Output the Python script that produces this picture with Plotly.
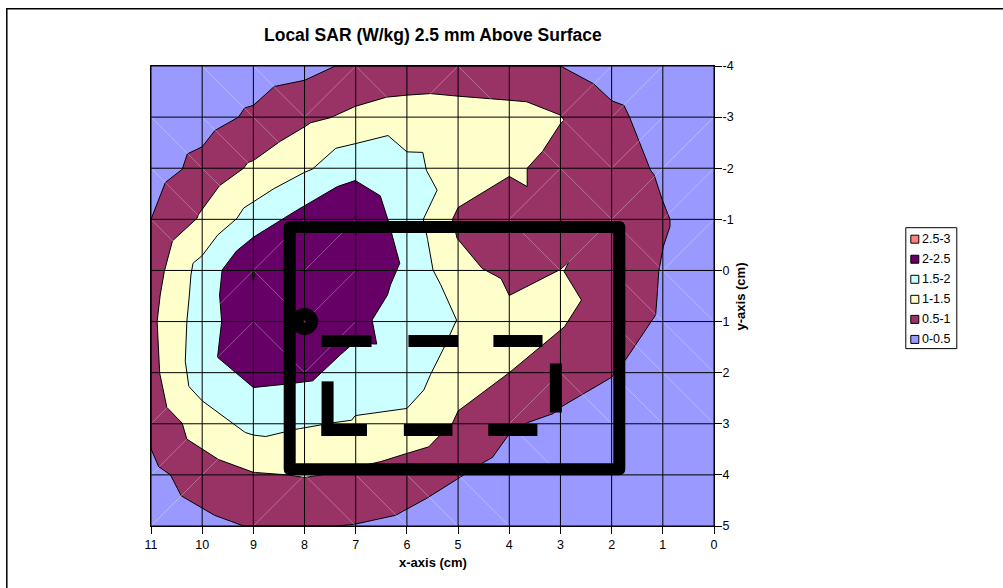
import plotly.graph_objects as go

# Contour bands: (x cm, y cm)
band_05_1_x = [11,10.72,10.39,10.29,10.0,9.75,9.29,9.17,9.0,8.59,8.0,7.4,3.0,2.35,2.0,1.76,1.65,1.24,1.17,1.01,0.86,0.86,0.99,1.08,1.11,1.14,1.73,2.0,2.97,3.14,3.65,4.03,4.33,4.51,4.95,5.6,6.22,7.04,7.4,9.19,9.76,10.41,10.62,10.85,11]
band_05_1_y = [-1.0,-1.72,-1.98,-2.28,-2.42,-2.74,-3.0,-3.18,-3.23,-3.6,-3.72,-4,-4,-3.65,-3.32,-3.23,-3.0,-1.96,-1.87,-1.38,-1.0,-0.86,-0.47,0.02,0.48,0.87,1.75,2.09,2.66,2.8,2.98,3.24,3.66,3.76,4.04,4.45,4.79,4.97,5,5,4.79,4.41,4.0,3.84,3.49]

band_1_15_x = [10.82,10.74,10.58,10.10,10.07,9.66,9.19,9.11,9.0,8.47,8.0,7.88,7.49,7.01,6.40,6.0,5.54,5.0,4.0,3.66,3.0,2.93,3.0,3.35,3.65,3.65,4.0,5.0,5.11,5.02,4.53,4.16,4.0,3.0,2.84,2.93,2.59,2.92,3.35,4.0,5.0,5.11,5.41,5.57,6.0,6.51,7.66,8.0,8.34,9.0,9.68,10.3,10.39,10.69,10.83,10.88]
band_1_15_y = [0.48,0.02,-0.58,-1.02,-1.10,-1.66,-2.0,-2.11,-2.15,-2.53,-2.81,-2.89,-2.99,-3.21,-3.39,-3.43,-3.46,-3.41,-3.33,-3.30,-3.04,-2.94,-2.87,-2.33,-2.0,-1.64,-1.84,-1.23,-1.0,-0.63,-0.04,0.16,0.49,-0.02,-0.16,0.02,0.58,1.10,1.46,2.0,2.75,2.99,3.28,3.45,3.58,3.74,4.0,4.05,4.0,3.95,3.7,3.30,2.99,2.68,2.01,1.0]

band_15_2_x = [10.25,10.22,10.18,10.0,9.70,9.32,9.19,8.6,8.0,7.85,7.39,7.01,6.37,6.0,5.69,5.62,5.41,5.68,5.6,5.49,5.34,5.25,5.03,5.28,5.54,5.67,6.0,7.01,7.08,7.44,8.18,8.76,9.0,9.16,10,10.26,10.33,10.3]
band_15_2_y = [0.48,0.09,-0.14,-0.29,-0.69,-1.02,-1.22,-1.6,-1.92,-1.98,-2.39,-2.48,-2.64,-2.32,-2.31,-1.96,-1.57,-1.0,-0.63,-0.01,0.28,0.48,0.97,1.52,2.04,2.34,2.70,2.84,2.93,2.98,3.11,3.25,3.22,3.17,2.55,2.27,1.78,1.0]

band_2_25_x = [9.61,9.66,9.62,9.70,9.0,8.41,7.84,7.30,7.04,6.59,6.68,6.38,6.32,6.14,6.37,6.52,7.01,7.36,8.18,9.0,9.33]
band_2_25_y = [-0.01,0.48,1.0,1.70,2.29,2.23,2.16,1.65,1.42,1.44,0.97,0.48,0.28,-0.14,-0.99,-1.46,-1.76,-1.64,-1.16,-0.65,-0.38]

band_25_3_x = [9.0,8.97,9.0,9.02]
band_25_3_y = [-0.02,0.05,0.2,0.07]

# Black overlay: board outline and dashes
board_x = [5.0,1.85,1.85,8.29,8.29,5.0]
board_y = [-0.85,-0.85,3.89,3.89,-0.85,-0.85]
dash_x = [[7.67,6.69],[5.97,5.0],[4.31,3.35],[7.55,7.55],[7.67,6.78],[6.06,5.11],[4.41,3.45],[3.09,3.09]]
dash_y = [[1.38,1.38],[1.38,1.38],[1.38,1.38],[2.17,3.24],[3.12,3.12],[3.12,3.12],[3.12,3.12],[1.82,2.78]]
feed_x = [8.0]
feed_y = [1.0]

x_ticks = list(range(0, 12))
y_ticks = list(range(-4, 6))
legend_labels = ["2.5-3", "2-2.5", "1.5-2", "1-1.5", "0.5-1", "0-0.5"]
legend_colors = ["#FF8080", "#660066", "#CCFFFF", "#FFFFCC", "#993366", "#9999FF"]

# Faint cell seams: per row (y -4..5), per column (x 11..0): D = falling, U = rising, - = none
seams = ["-DDUDUD-UU-",
         "DDD----DDUU",
         "DD-----UDUU",
         "D-UU-D-DUDU",
         "-UDU-----DD",
         "-UDU-----DD",
         "U------UDDD",
         "UUU----D---",
         "U-UDDDD----"]

title = "Local SAR (W/kg) 2.5 mm Above Surface"
FONT = "Liberation Sans, Arial, sans-serif"
W, H = 1003, 588
L, R, T, B = 150.7, 713.7, 65.7, 526.0

fig = go.Figure()
def band(xs, ys, color):
    fig.add_trace(go.Scatter(x=xs + xs[:1], y=ys + ys[:1], mode="lines", fill="toself",
                             fillcolor=color, line=dict(color="black", width=1, simplify=False),
                             hoverinfo="skip", showlegend=False))
band(band_05_1_x, band_05_1_y, legend_colors[4])
band(band_1_15_x, band_1_15_y, legend_colors[3])
band(band_15_2_x, band_15_2_y, legend_colors[2])
band(band_2_25_x, band_2_25_y, legend_colors[1])
band(band_25_3_x, band_25_3_y, legend_colors[0])

# seam lines between the surface cells
sx, sy = [], []
for r, row in enumerate(seams):
    top = y_ticks[r]
    for c, kind in enumerate(row):
        left = x_ticks[-1] - c
        if kind == "D":
            sx += [left, left - 1, None]; sy += [top, top + 1, None]
        elif kind == "U":
            sx += [left, left - 1, None]; sy += [top + 1, top, None]
fig.add_trace(go.Scatter(x=sx, y=sy, mode="lines", line=dict(color="rgba(255,255,255,0.3)", width=1),
                         hoverinfo="skip", showlegend=False))

# gridlines above the fills
for t in x_ticks:
    fig.add_trace(go.Scatter(x=[t, t], y=[y_ticks[0], y_ticks[-1]], mode="lines",
                             line=dict(color="black", width=1), hoverinfo="skip", showlegend=False))
for t in y_ticks:
    fig.add_trace(go.Scatter(x=[x_ticks[0], x_ticks[-1]], y=[t, t], mode="lines",
                             line=dict(color="black", width=1), hoverinfo="skip", showlegend=False))

fig.add_trace(go.Scatter(x=board_x, y=board_y, mode="lines", line=dict(color="black", width=12),
                         hoverinfo="skip", showlegend=False))
for xs, ys in zip(dash_x, dash_y):
    fig.add_trace(go.Scatter(x=xs, y=ys, mode="lines", line=dict(color="black", width=12),
                             hoverinfo="skip", showlegend=False))
fig.add_trace(go.Scatter(x=feed_x, y=feed_y, mode="markers", marker=dict(color="black", size=27),
                         hoverinfo="skip", showlegend=False))
fig.add_trace(go.Scatter(x=feed_x, y=feed_y, mode="markers", marker=dict(color=legend_colors[4], size=2),
                         hoverinfo="skip", showlegend=False))

shapes = [
    dict(type="rect", xref="paper", yref="paper", x0=(6.5-L)/(R-L), x1=(W+20-L)/(R-L),
         y0=(B-(H+20))/(B-T), y1=(B-8.5)/(B-T), line=dict(color="black", width=1.5), layer="below"),
    dict(type="rect", xref="paper", yref="paper", x0=(905.5-L)/(R-L), x1=(956.5-L)/(R-L),
         y0=(B-348.5)/(B-T), y1=(B-227.5)/(B-T), line=dict(color="black", width=1), fillcolor="white"),
]
annotations = []
for i, (lab, col) in enumerate(zip(legend_labels, legend_colors)):
    cy = 239 + i * 20.06
    shapes.append(dict(type="rect", xref="paper", yref="paper", x0=(910.5-L)/(R-L), x1=(918.5-L)/(R-L),
                       y0=(B-(cy+4))/(B-T), y1=(B-(cy-4))/(B-T), line=dict(color="black", width=1), fillcolor=col))
    annotations.append(dict(text=lab, xref="paper", yref="paper", x=(921-L)/(R-L), y=(B-cy)/(B-T),
                            xanchor="left", yanchor="middle", showarrow=False,
                            font=dict(family=FONT, size=12.5, color="black"), borderpad=0))
annotations.append(dict(text="<b>x-axis (cm)</b>", xref="paper", yref="paper", x=0.5, y=(B-563)/(B-T),
                        xanchor="center", yanchor="middle", showarrow=False,
                        font=dict(family=FONT, size=13, color="black")))
annotations.append(dict(text="<b>y-axis (cm)</b>", xref="paper", yref="paper", x=(740-L)/(R-L), y=(B-296)/(B-T),
                        xanchor="center", yanchor="middle", showarrow=False, textangle=-90,
                        font=dict(family=FONT, size=13, color="black")))
annotations.append(dict(text="<b>%s</b>" % title, xref="paper", yref="paper", x=0.5, y=(B-35)/(B-T),
                        xanchor="center", yanchor="middle", showarrow=False,
                        font=dict(family=FONT, size=17.5, color="black")))

axis = dict(showgrid=False, zeroline=False, showline=True, linecolor="black", linewidth=1,
            ticks="outside", ticklen=7, tickcolor="black", tickwidth=1,
            tickfont=dict(family=FONT, size=12.5, color="black"), mirror=True)
fig.update_layout(
    width=W, height=H, autosize=False, margin=dict(l=L, r=W-R, t=T, b=H-B, pad=0),
    paper_bgcolor="white", plot_bgcolor=legend_colors[5], showlegend=False,
    shapes=shapes, annotations=annotations,
    xaxis=dict(axis, range=[11, 0], tickvals=x_ticks, ticktext=[str(t) for t in x_ticks]),
    yaxis=dict(axis, range=[5, -4], tickvals=y_ticks, ticktext=[str(t) for t in y_ticks], side="right",
               ticklabelstandoff=-2),
)
fig.write_html("out.html", config=dict(displayModeBar=False),
               post_script=("document.body.style.margin='0';document.body.style.overflow='hidden';"
                            "document.querySelectorAll('.js-line').forEach(function(p){p.style.strokeLinejoin='round';});"))
